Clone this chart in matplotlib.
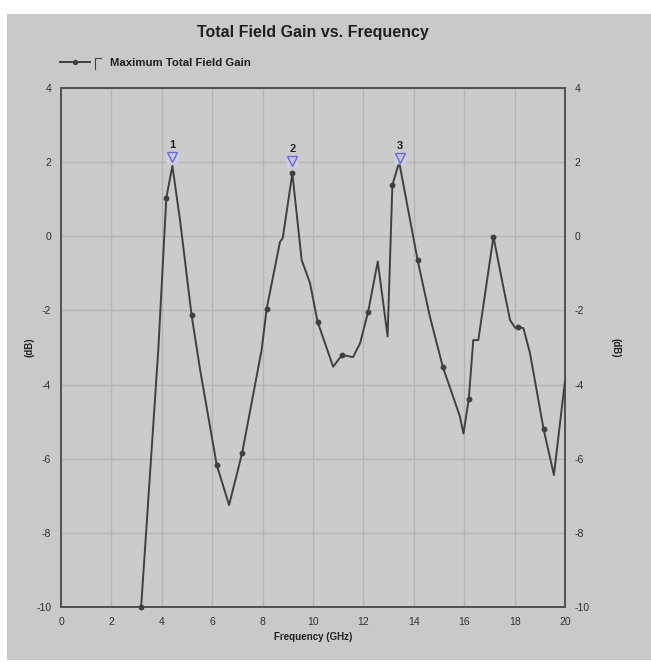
import matplotlib
matplotlib.use("Agg")
import matplotlib.pyplot as plt
from matplotlib.patches import Rectangle
from matplotlib.lines import Line2D

plt.rcParams["axes.unicode_minus"] = False

# ---- data ----
freq = [3.18, 3.86, 4.18, 4.42, 4.73, 5.18, 5.52, 6.18, 6.67, 7.19, 7.96, 8.16,
        8.69, 8.80, 9.18, 9.55, 9.88, 10.18, 10.80, 11.15, 11.59, 11.87, 12.19,
        12.57, 12.96, 13.15, 13.42, 14.15, 14.64, 15.15, 15.83, 15.97, 16.18,
        16.36, 16.56, 17.16, 17.55, 17.82, 18.02, 18.15, 18.35, 18.61, 19.15,
        19.56, 20.00]
gain = [-10.0, -3.07, 1.04, 1.90, 0.40, -2.12, -3.60, -6.17, -7.25, -5.84, -3.07, -1.96,
        -0.15, -0.05, 1.70, -0.64, -1.26, -2.30, -3.52, -3.20, -3.26, -2.88, -2.03,
        -0.68, -2.70, 1.38, 2.00, -0.64, -2.17, -3.52, -4.86, -5.32, -4.40,
        -2.80, -2.80, -0.01, -1.36, -2.26, -2.47, -2.44, -2.48, -3.15, -5.20,
        -6.44, -3.90]
marker_freqs = [3.18, 4.18, 5.18, 6.18, 7.19, 8.16, 9.18, 10.18, 11.15, 12.19, 13.15,
                14.15, 15.15, 16.18, 17.16, 18.15, 19.15]
peak_freq = [4.42, 9.18, 13.45]
peak_mark = [2.15, 2.02, 2.12]
peak_labels = ["1", "2", "3"]

x_ticks = [0, 2, 4, 6, 8, 10, 12, 14, 16, 18, 20]
y_ticks = [-10, -8, -6, -4, -2, 0, 2, 4]

title = "Total Field Gain vs. Frequency"
series_name = "Maximum Total Field Gain"
x_label = "Frequency (GHz)"
y_label = "(dB)"

# ---- figure ----
W, H = 651, 666
fig = plt.figure(figsize=(W / 100, H / 100), dpi=100)
fig.patch.set_facecolor("white")
bg = "#c9c9c9"
fig.patches.append(Rectangle((7 / W, 6 / H), 1 - 7 / W, 1 - 20 / H,
                             transform=fig.transFigure, facecolor=bg,
                             edgecolor="none", zorder=-10))

ax = fig.add_axes([61 / W, 59 / H, 504 / W, 519 / H])
ax.set_facecolor("#cbcbcb")

mk_idx = [i for i, f in enumerate(freq) if f in marker_freqs]
line, = ax.plot(freq, gain, color="#404040", lw=1.4, marker="o", ms=3.2,
                markevery=mk_idx, label=series_name, zorder=3, clip_on=False)

# peak markers
ax.plot(peak_freq, peak_mark, linestyle="none", marker="s", ms=9,
        markerfacecolor="#d2d2ee", markeredgecolor="none", alpha=0.8, zorder=4)
ax.plot(peak_freq, peak_mark, linestyle="none", marker="v", ms=6.5,
        markerfacecolor="#c4c4ec", markeredgecolor="#6a6ac8", mew=1.0, zorder=5)
for f, g, lab in zip(peak_freq, peak_mark, peak_labels):
    ax.annotate(lab, (f, g), xytext=(0, 5), textcoords="offset points",
                ha="center", va="bottom", fontsize=8, fontweight="bold",
                color="#202020", family="Liberation Sans", zorder=6)

ax.set_xlim(0, 20)
ax.set_ylim(-10, 4)
ax.set_xticks(x_ticks)
ax.set_yticks(y_ticks)
ax.grid(True, color="#b4b4b4", lw=1.0)
ax.set_axisbelow(True)
ax.tick_params(length=0, labelsize=7.5, colors="#303030", pad=7)
ax.tick_params(axis="y", labelright=True, right=False)
for lab in ax.get_xticklabels() + ax.get_yticklabels():
    lab.set_family("Liberation Sans")
for sp in ax.spines.values():
    sp.set_color("#505050")
    sp.set_linewidth(1.4)

ax.set_xlabel(x_label, fontsize=7, fontweight="bold", family="Liberation Sans",
              labelpad=4, color="#202020")
ax.set_ylabel(y_label, fontsize=7, fontweight="bold", family="Liberation Sans",
              labelpad=1, color="#202020")
ax2 = ax.secondary_yaxis("right")
ax2.set_yticks([])
ax2.spines["right"].set_visible(False)
ax2.set_ylabel(y_label, fontsize=7, fontweight="bold", family="Liberation Sans",
               labelpad=36, color="#202020", rotation=270, va="center")

fig.text(313 / W, 1 - 33 / H, title, ha="center", va="center", fontsize=11.5,
         fontweight="bold", family="Liberation Sans", color="#202020")

# legend
leg = fig.legend(handles=[line], labels=[series_name], loc="center left",
                 bbox_to_anchor=(60 / W, 1 - 63 / H), frameon=False,
                 prop={"family": "Liberation Sans", "weight": "bold", "size": 8.2},
                 handlelength=2.6, handletextpad=1.8, borderaxespad=0,
                 borderpad=0, markerscale=0.9)
for t in leg.get_texts():
    t.set_color("#202020")
fig.lines.append(Line2D([95 / W, 95 / W, 101 / W], [1 - 69 / H, 1 - 58 / H, 1 - 58 / H],
                        transform=fig.transFigure, color="#404040", lw=0.8))

fig.savefig("out.png", dpi=100, facecolor=fig.get_facecolor())
